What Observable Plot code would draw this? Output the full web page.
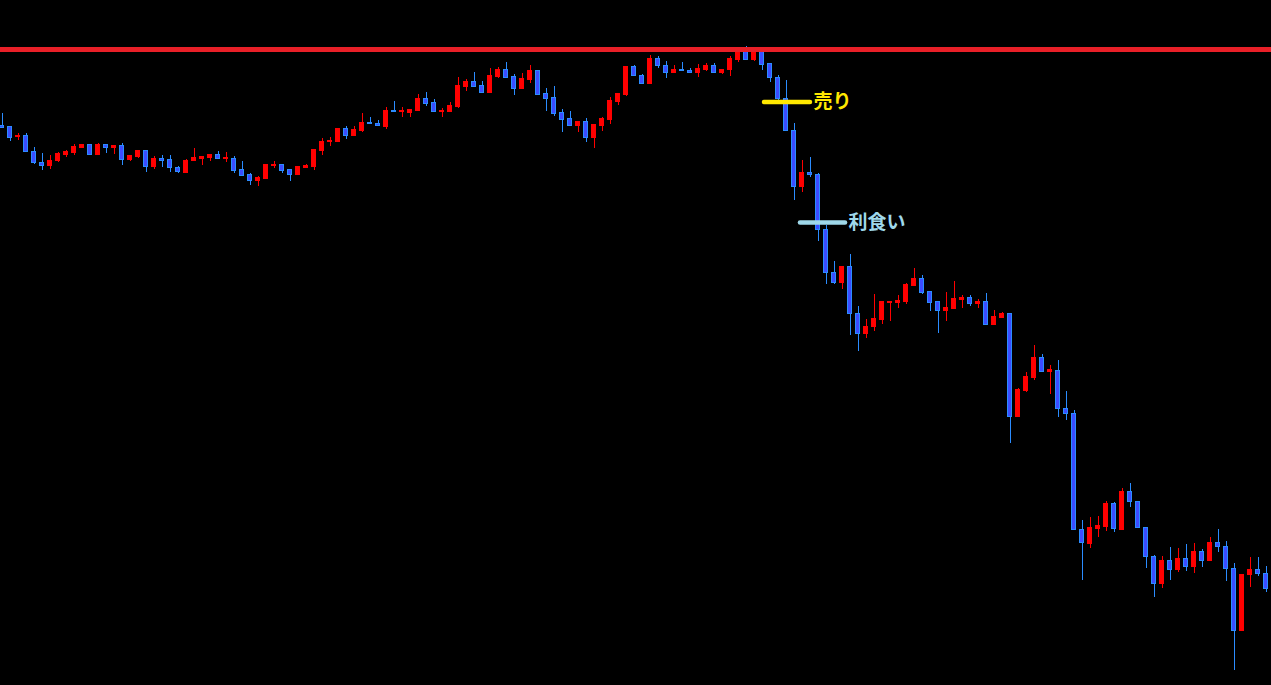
<!DOCTYPE html>
<html><head><meta charset="utf-8">
<script src="https://cdn.jsdelivr.net/npm/d3@7"></script>
<script src="https://cdn.jsdelivr.net/npm/@observablehq/plot@0.6"></script>
<style>html,body{margin:0;padding:0;background:#000;overflow:hidden}#chart svg{display:block}</style>
</head><body><div id="chart"></div>
<script>
// OHLC per bar (bar index = position in array)
const opens = [
148.75,148.74,148.635,148.65,148.49,148.38,148.35,148.395,148.46,148.48,
148.53,148.56,148.46,148.56,148.53,148.55,148.41,148.44,148.50,148.335,
148.42,148.41,148.33,148.28,148.395,148.42,148.43,148.455,148.42,148.42,
148.31,148.26,148.20,148.22,148.35,148.36,148.31,148.26,148.33,148.34,
148.50,148.585,148.59,148.72,148.65,148.70,148.78,148.77,148.74,148.90,
148.885,148.88,148.90,149.02,148.98,148.89,148.89,148.94,149.14,149.19,
149.15,149.08,149.24,149.31,149.24,149.12,149.21,149.30,149.07,149.03,
148.88,148.82,148.75,148.79,148.63,148.75,148.81,148.99,149.06,149.34,
149.25,149.17,149.42,149.35,149.275,149.31,149.30,149.275,149.31,149.35,
149.275,149.305,149.41,149.51,149.41,149.51,149.37,149.23,149.015,148.70,
148.135,148.28,148.26,147.705,147.275,147.175,147.34,146.865,146.665,146.735,
146.81,146.98,146.98,146.99,147.15,147.22,147.09,146.99,146.90,146.92,
147.01,147.03,146.97,146.99,146.76,146.83,146.87,145.835,146.10,146.23,
146.43,146.285,146.30,145.92,145.87,144.71,144.57,144.72,144.74,144.97,
144.71,145.09,144.99,144.73,144.44,144.165,144.40,144.305,144.42,144.335,
144.49,144.395,144.58,144.54,144.32,143.695,144.255,144.31,144.27];
const highs = [
148.87,148.74,148.67,148.67,148.53,148.47,148.45,148.48,148.50,148.56,
148.56,148.56,148.57,148.56,148.55,148.57,148.45,148.50,148.50,148.44,
148.45,148.45,148.34,148.41,148.52,148.44,148.46,148.49,148.48,148.44,
148.39,148.27,148.24,148.36,148.39,148.36,148.31,148.34,148.36,148.51,
148.62,148.63,148.72,148.74,148.74,148.87,148.83,148.80,148.93,148.99,
148.93,148.91,149.06,149.08,149.01,148.92,148.98,149.23,149.21,149.28,
149.19,149.32,149.33,149.38,149.26,149.27,149.35,149.30,149.12,149.14,
148.91,148.89,148.79,148.82,148.76,148.83,149.03,149.07,149.34,149.35,
149.26,149.45,149.44,149.39,149.35,149.38,149.32,149.36,149.37,149.37,
149.31,149.44,149.53,149.54,149.52,149.52,149.37,149.25,149.20,148.775,
148.40,148.43,148.27,147.75,147.39,147.34,147.46,146.945,146.81,147.065,
146.99,146.99,147.05,147.17,147.32,147.25,147.09,146.99,147.08,147.19,
147.05,147.05,147.01,147.07,146.90,146.88,146.87,146.12,146.28,146.55,
146.46,146.35,146.40,146.09,145.90,144.80,144.835,144.84,144.99,144.98,
145.12,145.17,144.99,144.73,144.45,144.44,144.53,144.52,144.56,144.57,
144.51,144.63,144.71,144.59,144.37,144.26,144.43,144.43,144.34];
const lows = [
148.73,148.59,148.60,148.48,148.36,148.30,148.31,148.38,148.43,148.45,
148.53,148.46,148.46,148.47,148.46,148.35,148.39,148.42,148.285,148.315,
148.33,148.285,148.275,148.27,148.395,148.35,148.39,148.415,148.38,148.27,
148.25,148.15,148.14,148.22,148.32,148.27,148.19,148.25,148.32,148.30,
148.45,148.54,148.59,148.61,148.64,148.68,148.765,148.745,148.71,148.885,
148.83,148.83,148.90,148.94,148.89,148.83,148.89,148.92,149.09,149.14,
149.08,149.08,149.22,149.23,149.05,149.12,149.17,149.06,148.89,148.84,
148.68,148.74,148.68,148.58,148.52,148.69,148.76,148.95,149.04,149.245,
149.17,149.17,149.32,149.225,149.275,149.295,149.275,149.235,149.29,149.275,
149.265,149.245,149.38,149.41,149.39,149.30,149.185,148.96,148.695,148.005,
148.085,148.23,147.595,147.165,147.165,147.115,146.655,146.495,146.625,146.695,
146.765,146.795,146.92,146.96,147.14,147.06,146.89,146.67,146.79,146.91,
146.92,146.94,146.92,146.75,146.75,146.82,145.575,145.835,146.085,146.20,
146.285,146.06,145.835,145.805,144.705,144.20,144.525,144.635,144.69,144.685,
144.70,144.93,144.725,144.325,144.035,144.125,144.205,144.285,144.295,144.275,
144.335,144.395,144.485,144.195,143.305,143.695,144.135,144.245,144.085];
const closes = [
148.73,148.63,148.65,148.485,148.375,148.35,148.40,148.47,148.49,148.54,
148.56,148.46,148.56,148.53,148.55,148.41,148.45,148.50,148.335,148.42,
148.40,148.325,148.285,148.40,148.43,148.44,148.46,148.415,148.425,148.30,
148.25,148.20,148.23,148.36,148.36,148.30,148.26,148.34,148.35,148.51,
148.59,148.60,148.72,148.65,148.71,148.78,148.765,148.745,148.90,148.885,
148.895,148.91,149.02,148.97,148.89,148.90,148.95,149.15,149.19,149.14,
149.08,149.25,149.31,149.23,149.12,149.22,149.30,149.06,149.02,148.87,
148.81,148.75,148.79,148.63,148.76,148.82,149.00,149.07,149.34,149.245,
149.17,149.42,149.345,149.275,149.31,149.295,149.275,149.32,149.35,149.275,
149.31,149.42,149.51,149.41,149.51,149.36,149.225,149.015,148.695,148.135,
148.28,148.255,147.705,147.275,147.175,147.34,146.865,146.665,146.74,146.82,
146.99,146.99,147.00,147.16,147.22,147.08,146.98,146.90,146.93,147.02,
147.03,146.97,146.99,146.76,146.84,146.87,145.835,146.11,146.24,146.43,
146.285,146.305,145.915,145.865,144.705,144.575,144.73,144.75,144.97,144.715,
145.09,144.985,144.725,144.435,144.165,144.40,144.305,144.42,144.335,144.49,
144.395,144.58,144.535,144.315,143.695,144.26,144.31,144.265,144.115];

// horizontal resistance level
const resistance = [149.51];
// trade annotation lines: label, price, start bar, end bar
const lineLabels = ["売り", "利食い"];
const linePrices = [148.985, 147.78];
const lineFrom = [95.31, 99.81];
const lineTo = [101.06, 105.44];

const lineColors = ["#ffe800", "#9fd8ea"];

const bars = opens.map((o, i) => ({i, open: o, high: highs[i], low: lows[i], close: closes[i]}));
const upBars = bars.filter(d => d.close > d.open);
const downBars = bars.filter(d => !(d.close > d.open));
const levels = lineLabels.map((label, k) => ({label, price: linePrices[k], from: lineFrom[k], to: lineTo[k], color: lineColors[k]}));

const RED = "#ff0000", BLUE_FILL = "#3c4cff", BLUE_EDGE = "#2b8cff";

const chart = Plot.plot({
  width: 1271,
  height: 685,
  margin: 0,
  style: {background: "#000"},
  x: {type: "linear", domain: [-0.1875, 158.6875], axis: null},
  y: {domain: [143.15, 150], axis: null},
  marks: [
    Plot.ruleX(upBars, {x: "i", y1: "low", y2: "high", stroke: RED, strokeWidth: 1, shapeRendering: "crispEdges"}),
    Plot.ruleX(downBars, {x: "i", y1: "low", y2: "high", stroke: BLUE_EDGE, strokeWidth: 1, shapeRendering: "crispEdges"}),
    Plot.rect(upBars, {x1: d => d.i - 0.25, x2: d => d.i + 0.25, y1: "open", y2: "close", fill: RED, stroke: RED, strokeWidth: 1, shapeRendering: "crispEdges"}),
    Plot.rect(downBars, {x1: d => d.i - 0.25, x2: d => d.i + 0.25, y1: "open", y2: "close", fill: BLUE_FILL, stroke: BLUE_EDGE, strokeWidth: 1, shapeRendering: "crispEdges"}),
    Plot.ruleY(resistance, {stroke: "#e81f27", strokeWidth: 5}),
    Plot.ruleY(levels, {y: "price", x1: "from", x2: "to", stroke: "color", strokeWidth: 4.5, strokeLinecap: "round"}),
    Plot.text(levels, {x: "to", y: "price", text: "label", fill: "color", textAnchor: "start", dx: 3, fontSize: 19, fontWeight: "bold", fontFamily: "'Noto Sans CJK JP', 'Noto Sans', sans-serif"})
  ]
});
document.getElementById("chart").appendChild(chart);
</script>
</body></html>
